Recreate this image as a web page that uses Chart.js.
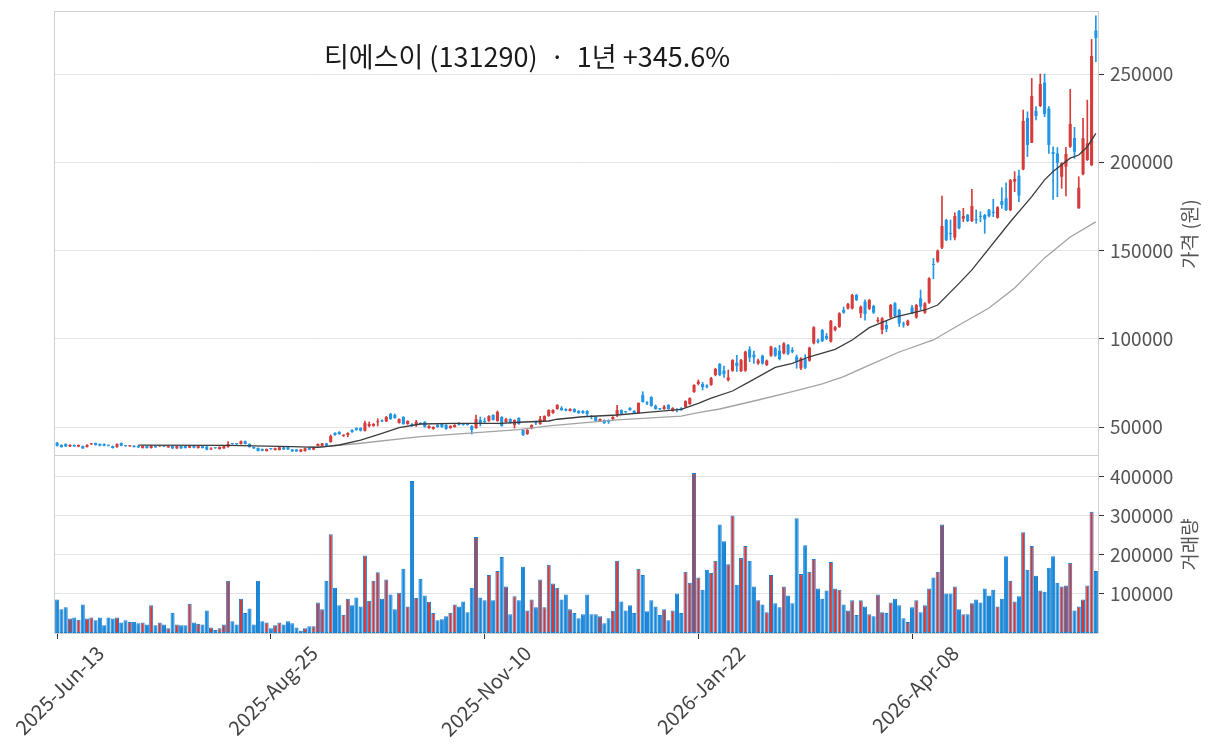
<!DOCTYPE html>
<html><head><meta charset="utf-8">
<script src="https://cdn.jsdelivr.net/npm/chart.js@4.4.1/dist/chart.umd.min.js"></script>
<style>html,body{margin:0;padding:0;background:#fff;}canvas{display:block;}</style>
</head><body>
<canvas id="c" width="1212" height="750"></canvas>
<script>
const titleText = '티에스이 (131290)  ·  1년 +345.6%';
const priceTitle = '가격 (원)';
const volTitle = '거래량';
const tickIdx = [0, 50, 100, 150, 200];
const tickLabels = ['2025-Jun-13', '2025-Aug-25', '2025-Nov-10', '2026-Jan-22', '2026-Apr-08'];
const priceTicks = [50000, 100000, 150000, 200000, 250000];
const volTicks = [100000, 200000, 300000, 400000];

const opens = [41100,39800,40400,39000,39800,38900,39200,38700,40200,40900,
40400,40400,39500,39200,38700,40900,39300,39100,39400,39200,
38100,39200,38100,39200,39100,39400,38500,39200,37900,39200,
39200,38300,39400,38100,39200,38900,37200,38100,37500,37900,
38700,40400,40400,40400,41900,40400,38700,38100,37500,36400,
37600,37000,37000,38500,38500,37200,37200,36000,36400,38500,
37200,39200,39400,40700,41500,46600,47200,45000,45500,48300,
49400,49400,47900,50600,50600,52700,53800,53200,57400,56800,
52300,55700,51700,51700,51200,52300,52900,49400,48900,51200,
51700,51200,49400,50000,52300,51700,51700,50600,49400,54000,
53400,53400,56800,53400,55700,52800,54500,51200,55100,48300,
46000,49200,52600,51700,53400,56200,57900,60200,60800,60200,
59100,60200,59100,59100,59100,56200,55700,53400,53900,53900,
54500,56600,59600,58600,60800,59100,57900,68100,63800,67000,
61900,60300,60200,62500,59100,60200,60800,61300,63000,69800,
74400,74400,73500,73800,79500,85700,82000,76600,81900,86400,
81700,81900,94000,91000,86000,90400,85100,90400,94600,93200,
91700,96500,93600,89800,83200,88500,87600,97400,99000,104900,
101600,98400,104900,106800,116300,117200,117200,124800,114400,121000,
117000,118500,109800,105000,107800,112100,120100,116300,108300,107800,
117800,112100,122900,114800,120400,142000,143700,151600,167300,159500,
157300,172400,168000,170100,166700,167400,169300,170100,172900,171500,
168600,178000,179600,172900,189000,192400,196000,225100,211100,229200,
231900,245100,230400,205800,205000,191800,197500,208800,213700,173900,
193200,201300,198400,274600];
const closes = [39400,38700,39000,39800,39000,39800,37900,39800,40400,39800,
39400,39400,39400,38100,40400,39400,39200,39300,38700,38500,
39200,38100,39200,38500,39300,38900,39200,37900,39200,37900,
38100,39400,38300,39200,38100,37200,37500,38000,38700,39200,
40400,40300,40300,41900,40400,38700,37900,36400,36600,37500,
37500,37900,38500,37300,37300,36200,36200,37200,37900,37200,
38500,40400,40700,39400,44900,45500,46000,45500,46600,47200,
48300,47900,52300,51700,51700,52900,53200,55700,54500,55100,
54500,51700,53400,50600,52900,51700,50100,50600,50000,50000,
50000,48900,50600,51200,51200,51200,51200,48300,54500,52300,
52800,56200,54000,58500,50600,54500,52300,53900,51700,45500,
48300,51100,52200,54500,56200,59600,59600,62500,59600,59300,
60200,58500,57900,57900,57400,55700,53400,54500,52200,52800,
55700,59600,57500,58400,59600,57900,63600,64200,63400,61900,
60200,60100,61500,60200,60800,59600,59600,64700,66400,73800,
75700,72600,72800,77700,82900,79500,80000,78100,87900,84500,
87900,92700,89300,89500,87700,86000,87600,95500,90400,88500,
97400,91500,92700,87000,88900,83600,94900,106500,98200,98700,
100000,110100,106500,114400,114800,119700,124800,122000,118200,114000,
121900,114800,110600,111600,105500,119100,112900,108700,108000,110200,
114400,119100,118200,120100,134200,141800,149900,163900,155900,159300,
169500,162600,169500,166700,175200,167200,169100,167700,169500,171300,
174500,175800,172900,189900,190500,181100,223400,209800,237500,226200,
244300,227300,209800,204700,199800,199400,204700,221700,206000,185600,
213600,210700,260200,270400];
const highs = [41300,40000,40500,40000,39900,39900,39300,40100,40700,41000,
40500,40500,39700,39300,40500,41000,39500,39500,39500,39400,
39300,39300,39500,39300,39400,39500,39300,39300,39300,39300,
39300,39500,39500,39300,39300,39000,38300,38300,38800,39300,
41700,40600,40600,42100,42100,40500,38800,38200,37600,37600,
37800,38000,38600,38600,38600,37300,37300,37300,38000,38600,
38600,40500,40800,40800,45500,46900,47400,45700,46800,48500,
49600,49600,53400,52900,52000,54700,54000,56000,57800,57400,
54700,55900,53600,51900,53800,52500,53100,50800,50200,51400,
51900,51400,50800,51400,52500,51900,51900,50800,56800,55700,
55100,56500,57000,59100,55900,55000,54700,54100,55300,48500,
48600,51300,53400,56100,56400,59800,59800,62700,61600,60400,
60400,60400,59300,59300,59300,56500,55900,54700,54100,54100,
55900,62300,59800,58900,61000,59300,63800,70000,64400,67200,
62500,60600,62300,62700,61000,60400,61000,64900,66600,74000,
76700,75300,74000,78200,83300,86000,84500,82300,88200,90600,
88300,93000,95500,93000,88500,90800,88000,95800,95000,96300,
97800,96900,95000,90800,89300,91000,95300,106900,99800,105300,
103000,110500,107000,114800,118000,120100,125200,125200,118600,122000,
122300,119000,112000,112000,110000,119500,120500,116700,109500,110600,
119000,119500,127600,120500,134600,145500,150300,180900,167700,167300,
171400,172800,173900,170500,184600,173000,172000,170500,173300,179000,
174900,185600,188400,190300,194700,195600,229600,228600,247500,231500,
250000,250000,231500,208800,208300,199800,208400,241300,219800,191800,
224900,235200,269600,282900];
const lows = [39200,38500,38900,38900,38900,38800,37800,38600,40000,39700,
39300,39300,39200,38000,38500,39300,39000,39000,38600,38300,
38000,38000,38000,38400,39000,38800,38400,37800,37800,37800,
38000,38200,38200,38000,38000,37000,37100,37900,37400,37800,
38500,40200,40100,40300,40300,38500,37800,36300,36500,36300,
37300,36900,36900,37200,37200,36100,36100,35900,36300,37100,
37100,39100,39300,39300,41300,45200,45800,44600,44500,47000,
48100,47700,47700,50000,50400,50600,53000,53000,54300,54900,
52100,51500,51500,50400,50300,51500,49900,49200,48700,49800,
49800,48700,49200,49800,51000,51000,51000,46000,49200,50600,
52600,53200,53800,53200,50400,52600,52100,49400,51500,45100,
45800,48900,51300,51500,53200,56000,57700,60000,59400,59100,
58900,58300,57700,57700,56500,54600,53200,53200,52000,52000,
53600,55800,57300,58200,59400,57700,57700,64000,62700,61700,
60000,59800,60000,60000,58900,58500,59400,61100,62800,69600,
73800,71000,72200,73500,79000,79000,78100,76000,81500,81500,
81300,81500,87000,86000,85500,85500,84800,90000,90000,88000,
91300,91000,92000,83300,82500,83000,87200,97000,97500,98300,
99500,98000,104500,106400,114400,116800,116800,121600,112000,110500,
116500,114300,109300,102800,104000,111600,112400,107000,106500,107400,
114000,111600,116300,114400,120000,134000,143300,151000,155500,156000,
156000,162200,166300,166300,166300,165400,166300,159700,169000,169200,
168200,173900,172500,172500,183300,177600,195600,203200,211100,224000,
231500,225800,205000,179000,180500,185200,180900,208400,202200,173900,
192800,201000,198000,257000];
const volumes = [86000,61000,66000,37000,40000,34000,73000,37000,40000,33000,
40000,20000,40000,37000,40000,27000,33000,28000,29000,25000,
27000,22000,71000,20000,27000,22000,12000,52000,22000,20000,
20000,75000,27000,24000,22000,58000,14000,8000,12000,22000,
134000,30000,22000,88000,51000,63000,22000,134000,30000,27000,
12000,20000,27000,22000,30000,25000,14000,6000,12000,17000,
17000,78000,61000,134000,253000,116000,71000,47000,88000,71000,
91000,68000,199000,83000,134000,156000,88000,137000,99000,61000,
103000,165000,68000,390000,90000,139000,96000,80000,51000,33000,
35000,43000,52000,73000,68000,81000,53000,116000,246000,91000,
84000,149000,84000,159000,195000,119000,48000,94000,84000,170000,
58000,86000,66000,137000,66000,175000,127000,116000,86000,99000,
61000,51000,38000,48000,99000,48000,48000,43000,25000,38000,
57000,185000,81000,58000,71000,51000,165000,149000,56000,84000,
68000,46000,61000,33000,58000,101000,51000,157000,129000,410000,
142000,111000,162000,154000,185000,278000,235000,176000,301000,124000,
192000,223000,185000,119000,84000,73000,53000,149000,76000,66000,
119000,96000,76000,294000,151000,225000,157000,190000,114000,88000,
109000,182000,114000,111000,73000,58000,84000,46000,84000,68000,
48000,43000,99000,53000,51000,78000,88000,71000,38000,28000,
66000,84000,53000,71000,114000,142000,157000,278000,101000,101000,
119000,61000,48000,48000,76000,86000,78000,114000,96000,111000,
68000,88000,197000,134000,81000,94000,258000,162000,223000,147000,
109000,106000,167000,197000,129000,119000,122000,180000,58000,68000,
86000,122000,311000,159000];

const ma20Idx = [19,40,55,61,66,71,76,80,85,93,104,108,115,117,123,131,138,146,150,153,158,162,168,172,176,182,186,190,196,203,206,211,214,223,228,231,233,237,239,241,243];
const ma20Val = [39700,39600,38900,38500,39800,42600,46400,49600,51700,52100,52100,52700,53400,54400,55800,56800,58300,60000,63400,66300,70400,75700,83800,86100,89800,94000,99300,106300,112200,116300,119100,131400,139000,166300,180500,190000,194700,202300,204100,208800,216400];
const ma60Idx = [59,62,71,85,108,115,131,146,150,155,164,172,179,184,190,197,205,211,218,224,231,237,243];
const ma60Val = [38700,38700,40800,44500,48500,50600,54000,56200,58100,60200,65300,70000,74400,78500,85100,92500,99300,107800,117400,128800,145800,157700,166200];

const N = opens.length;
const labels = opens.map((_, i) => String(i));
const UP = '#d63c3c', DOWN = '#2196e6';
const VUP = '#d63838', VDOWN = '#1689dc';
const isUp = opens.map((o, i) => closes[i] >= o);
const candleCol = isUp.map(u => u ? UP : DOWN);
const volCol = isUp.map(u => u ? VUP : VDOWN);
function sparse(idx, val) { const a = new Array(N).fill(null); idx.forEach((k, j) => a[k] = val[j]); return a; }

const FONT = "'Noto Sans CJK KR', 'DejaVu Sans', sans-serif";
Chart.defaults.font.family = FONT;

const framePlugin = {
  id: 'frames',
  afterDraw(chart) {
    const { ctx, chartArea } = chart;
    const yp = chart.scales.yPrice, yv = chart.scales.yVol;
    ctx.save();
    ctx.strokeStyle = '#d0d0d0';
    ctx.lineWidth = 1;
    const L = Math.round(chartArea.left) - 0.5, R = Math.round(chartArea.right) + 0.5;
    ctx.strokeRect(L, Math.round(yp.top) - 0.5, R - L, Math.round(yp.bottom) - Math.round(yp.top));
    ctx.strokeRect(L, Math.round(yv.top) - 0.5, R - L, Math.round(yv.bottom) - Math.round(yv.top) + 1);
    ctx.fillStyle = '#1a1a1a';
    ctx.font = '27px ' + FONT;
    ctx.textAlign = 'center';
    ctx.textBaseline = 'middle';
    ctx.fillText(titleText, 527, 57);
    ctx.fillStyle = '#555';
    ctx.font = '19px ' + FONT;
    ctx.save();
    ctx.translate(1190, (yp.top + yp.bottom) / 2);
    ctx.rotate(-Math.PI / 2);
    ctx.fillText(priceTitle, 0, 0);
    ctx.restore();
    ctx.save();
    ctx.translate(1190, (yv.top + yv.bottom) / 2);
    ctx.rotate(-Math.PI / 2);
    ctx.fillText(volTitle, 0, 0);
    ctx.restore();
    ctx.restore();
  }
};

new Chart(document.getElementById('c'), {
  type: 'bar',
  data: {
    labels,
    datasets: [
      { type: 'line', data: sparse(ma20Idx, ma20Val), yAxisID: 'yPrice', borderColor: '#3c3c3c', borderWidth: 1.3, pointRadius: 0, spanGaps: true, tension: 0 },
      { type: 'line', data: sparse(ma60Idx, ma60Val), yAxisID: 'yPrice', borderColor: '#a3a3a3', borderWidth: 1.3, pointRadius: 0, spanGaps: true, tension: 0 },
      { data: opens.map((o, i) => [o, closes[i]]), yAxisID: 'yPrice', backgroundColor: candleCol, borderWidth: 0, grouped: false, barPercentage: 0.72, categoryPercentage: 1, minBarLength: 1 },
      { data: lows.map((l, i) => [l, highs[i]]), yAxisID: 'yPrice', backgroundColor: candleCol, borderWidth: 0, grouped: false, barThickness: 1 },
      { data: volumes, yAxisID: 'yVol', backgroundColor: volCol, borderColor: '#1a7fcf', borderWidth: 1, borderSkipped: false, grouped: false, barPercentage: 0.95, categoryPercentage: 1 }
    ]
  },
  options: {
    responsive: false,
    animation: false,
    events: [],
    layout: { padding: { left: 55, top: 12, right: 0, bottom: 0 } },
    plugins: { legend: { display: false }, tooltip: { enabled: false }, title: { display: false } },
    scales: {
      x: {
        type: 'category',
        offset: true,
        grid: { display: true, drawOnChartArea: false, offset: false, tickLength: 6, tickColor: '#333', tickWidth: 1 },
        border: { display: false },
        ticks: { autoSkip: false, maxRotation: 45, minRotation: 45, padding: 2, labelOffset: 43, color: '#444', font: { size: 20 },
          callback: (v) => tickLabels[tickIdx.indexOf(v)] },
        afterBuildTicks: (s) => { s.ticks = tickIdx.map(v => ({ value: v })); },
        afterFit: (s) => { s.height = 117; s.paddingLeft = 0; s.paddingRight = 0; }
      },
      yPrice: {
        type: 'linear', position: 'right', stack: 'v', stackWeight: 444,
        min: 33570, max: 285130,
        grid: { color: '#e4e4e4', tickColor: '#333', tickLength: 6 },
        border: { display: false },
        ticks: { color: '#555', font: { size: 19 }, padding: 6, callback: v => String(v) },
        afterBuildTicks: (s) => { s.ticks = priceTicks.map(v => ({ value: v })); },
        afterFit: (s) => { s.width = 114; s.paddingTop = 0; s.paddingBottom = 0; }
      },
      yVol: {
        type: 'linear', position: 'right', stack: 'v', stackWeight: 177,
        min: 0, max: 453800,
        grid: { color: '#e4e4e4', tickColor: '#333', tickLength: 6 },
        border: { display: false },
        ticks: { color: '#555', font: { size: 19 }, padding: 6, callback: v => String(v) },
        afterBuildTicks: (s) => { s.ticks = volTicks.map(v => ({ value: v })); },
        afterFit: (s) => { s.width = 114; s.paddingTop = 0; s.paddingBottom = 0; }
      }
    }
  },
  plugins: [framePlugin]
});
</script>
</body></html>
